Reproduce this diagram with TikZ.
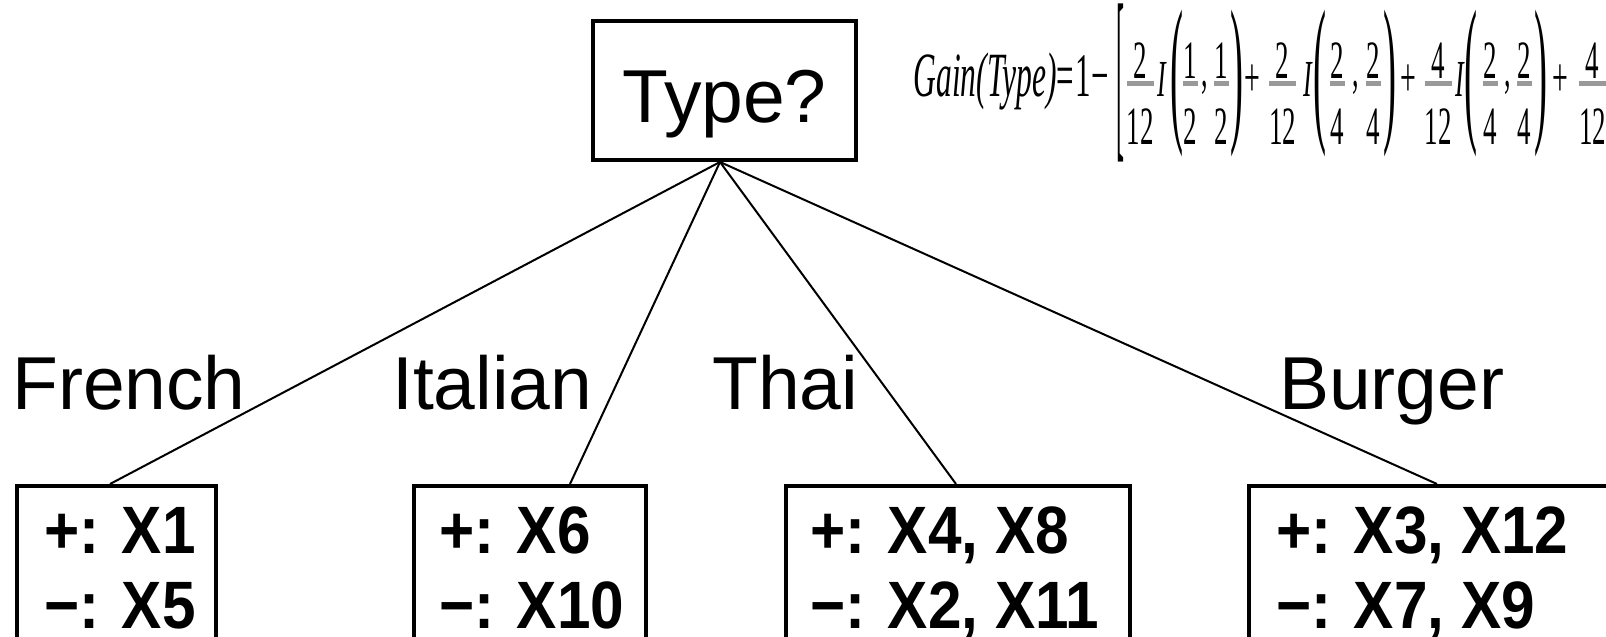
\documentclass[tikz,border=0pt]{standalone}
\usepackage{fontspec}
\usepackage{graphicx}
\newfontfamily\labelfont{Liberation Sans}
\newfontfamily\leaffont[FakeStretch=0.9]{Liberation Sans Bold}
\newfontfamily\fserif{Liberation Serif}
\newcommand{\FS}[1]{\fserif\fontsize{#1}{#1}\selectfont}
% piece centred at x (pt, relative to the node origin), squeezed horizontally
\newcommand{\fpc}[2]{\rlap{\kern#1pt\makebox[0pt][c]{\scalebox{0.5}[1]{#2}}}}
% fraction: centre, numerator, denominator, bar width (unsqueezed)
\newcommand{\ffr}[4]{%
 \fpc{#1}{\raisebox{18pt}{\FS{54}#2}}%
 \fpc{#1}{\raisebox{-48pt}{\FS{54}#3}}%
 \fpc{#1}{\color{black!40}\rule[10.5pt]{#4pt}{5pt}}}
% tall delimiter: centre, glyph, width, total height, shift of its bottom
\newcommand{\tallg}[5]{\fpc{#1}{\raisebox{#5pt}{\resizebox*{#3pt}{#4pt}{\raisebox{\depth}{\FS{10}#2}}}}}
\newcommand{\fcomma}[1]{\fpc{#1}{\raisebox{10pt}{\FS{52},}}}
\tikzset{
  box/.style={draw, line width=4pt, inner sep=0pt},
  lbl/.style={font=\labelfont\fontsize{75}{90}\selectfont, anchor=base west, inner sep=0pt},
  leaftxt/.style={font=\leaffont\fontsize{67}{75}\selectfont, anchor=base west, inner sep=0pt},
  conn/.style={line width=2pt},
  formula/.style={anchor=base west, inner sep=0pt}
}
\begin{document}
\begin{tikzpicture}[x=1pt,y=-1pt]
\useasboundingbox (0,0) rectangle (1606,637);
\clip (0,0) rectangle (1606,637);
% root
\node[box, minimum width=263pt, minimum height=139pt] (type) at (724.5,90.5) {};
\node[lbl, anchor=base] (typetxt) at (724.5,122) {Type?};
% formula
\node[formula] (gain) at (913,96) {%
 \rlap{\scalebox{0.5}[1]{\FS{63}\itshape Gain(Type)}}%
 \fpc{151.5}{\FS{62}=}%
 \fpc{170}{\FS{62}1}%
 \fpc{187}{\FS{62}−}%
 \tallg{206.5}{[}{16}{158}{-66}%
 \ffr{226.5}{2}{12}{54}%
 \fpc{248.5}{\FS{52}\itshape I}%
 \tallg{263}{(}{26}{147}{-61}%
 \ffr{276.5}{1}{2}{30}%
 \fcomma{291}%
 \ffr{308}{1}{2}{30}%
 \tallg{323}{)}{26}{147}{-61}%
 \fpc{339}{\FS{56}+}%
 \ffr{369}{2}{12}{54}%
 \fpc{394.5}{\FS{52}\itshape I}%
 \tallg{406}{(}{26}{147}{-61}%
 \ffr{424}{2}{4}{30}%
 \fcomma{442}%
 \ffr{459.5}{2}{4}{30}%
 \tallg{476.5}{)}{26}{147}{-61}%
 \fpc{495}{\FS{56}+}%
 \ffr{524.5}{4}{12}{54}%
 \fpc{546}{\FS{52}\itshape I}%
 \tallg{557}{(}{26}{147}{-61}%
 \ffr{577}{2}{4}{30}%
 \fcomma{594}%
 \ffr{611}{2}{4}{30}%
 \tallg{627}{)}{26}{147}{-61}%
 \fpc{646.5}{\FS{56}+}%
 \ffr{679}{4}{12}{54}%
};
% leaves
\node[box, minimum width=199pt, minimum height=214pt] (b1) at (116.5,593) {};
\node[box, minimum width=232pt, minimum height=214pt] (b2) at (530,593) {};
\node[box, minimum width=344pt, minimum height=214pt] (b3) at (958,593) {};
\node[box, minimum width=451pt, minimum height=214pt] (b4) at (1474.5,593) {};
% leaf texts
\node[leaftxt] (t1a) at (44,553) {+: X1};
\node[leaftxt] (t1b) at (44,628) {−: X5};
\node[leaftxt] (t2a) at (439,553) {+: X6};
\node[leaftxt] (t2b) at (439,628) {−: X10};
\node[leaftxt] (t3a) at (810,553) {+: X4, X8};
\node[leaftxt] (t3b) at (810,628) {−: X2, X11};
\node[leaftxt] (t4a) at (1276,553) {+: X3, X12};
\node[leaftxt] (t4b) at (1276,628) {−: X7, X9};
% branch labels
\node[lbl] (lfr) at (12,409) {French};
\node[lbl] (lit) at (392,409) {Italian};
\node[lbl] (lth) at (712,409) {Thai};
\node[lbl] (lbu) at (1279,409) {Burger};
% connectors
\coordinate (hub) at (720,162);
\coordinate (e1) at (110,484);
\coordinate (e2) at (570,484);
\coordinate (e3) at (956,484);
\coordinate (e4) at (1437,484);
\draw[conn] (hub) -- (e1);
\draw[conn] (hub) -- (e2);
\draw[conn] (hub) -- (e3);
\draw[conn] (hub) -- (e4);
\end{tikzpicture}
\end{document}
